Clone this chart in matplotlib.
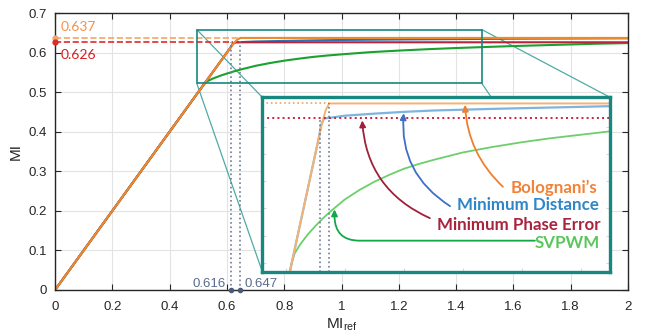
import numpy as np
import matplotlib
matplotlib.use("Agg")
import matplotlib.pyplot as plt
from matplotlib.patches import Rectangle, ConnectionPatch

plt.rcParams['font.family'] = ['Liberation Sans', 'DejaVu Sans']
plt.rcParams['mathtext.fontset'] = 'custom'
plt.rcParams['mathtext.rm'] = 'Liberation Sans'

# MI_ref vs achieved MI for each overmodulation strategy
x_bol = [0, 0.50, 0.55, 0.60, 0.62, 0.635, 0.647, 1.0, 1.5, 2.0]
y_bol = [0, 0.50, 0.55, 0.60, 0.62, 0.632, 0.637, 0.637, 0.637, 0.637]

x_mpe = [0, 0.50, 0.55, 0.60, 0.612, 0.62, 0.63, 1.0, 1.5, 2.0]
y_mpe = [0, 0.50, 0.55, 0.60, 0.612, 0.6215, 0.626, 0.626, 0.626, 0.626]

x_md = [0, 0.50, 0.55, 0.60, 0.612, 0.62, 0.63, 0.65, 0.70, 0.80, 0.90, 1.0, 1.2, 1.4, 1.6, 1.8, 2.0]
y_md = [0, 0.50, 0.55, 0.60, 0.612, 0.6215, 0.626, 0.6265, 0.628, 0.6295, 0.6308, 0.6318, 0.633, 0.634, 0.635, 0.6355, 0.636]

x_sv = [0, 0.52, 0.53, 0.55, 0.575, 0.60, 0.625, 0.65, 0.70, 0.75, 0.80, 0.85, 0.90, 0.95,
        1.0, 1.1, 1.2, 1.3, 1.4, 1.5, 1.6, 1.7, 1.8, 1.9, 2.0]
y_sv = [0, 0.52, 0.527, 0.534, 0.541, 0.547, 0.5525, 0.5575, 0.5665, 0.5735, 0.5795, 0.5845, 0.589, 0.5925,
        0.5955, 0.601, 0.605, 0.6085, 0.6115, 0.614, 0.6165, 0.6185, 0.6205, 0.6225, 0.624]

mi_bol_max = 0.637
mi_mpe_max = 0.626
x_sat_mpe = 0.616
x_sat_bol = 0.647

xticks = [0, 0.2, 0.4, 0.6, 0.8, 1, 1.2, 1.4, 1.6, 1.8, 2]
xticklabels = ['0', '0.2', '0.4', '0.6', '0.8', '1', '1.2', '1.4', '1.6', '1.8', '2']
yticks = [0, 0.1, 0.2, 0.3, 0.4, 0.5, 0.6, 0.7]
yticklabels = ['0', '0.1', '0.2', '0.3', '0.4', '0.5', '0.6', '0.7']

c_or = '#EE8A2A'
c_rd = '#B8243A'
c_bl = '#2A72C0'
c_gr = '#1AA12E'
c_teal = '#17877F'
c_gray = '#6E7C96'

fig = plt.figure(figsize=(6.51, 3.36), dpi=100)
ax = fig.add_axes([55/651, 46/336, 573/651, 277/336])

ax.plot(x_sv, y_sv, color=c_gr, lw=1.5)
ax.plot(x_md, y_md, color=c_bl, lw=1.5)
ax.plot(x_mpe, y_mpe, color=c_rd, lw=1.5)
ax.plot(x_bol, y_bol, color=c_or, lw=1.5)

# saturation markers
ax.plot([0, x_sat_bol], [mi_bol_max, mi_bol_max], '--', color='#F3A56A', lw=1.2)
ax.plot([0, 0.62], [mi_mpe_max, mi_mpe_max], '--', color='#DD2A2A', lw=1.2)
ax.plot([0], [mi_bol_max], 'o', color='#F3A56A', ms=3.5, clip_on=False, zorder=5)
ax.plot([0], [mi_mpe_max], 'o', color='#DD2A2A', ms=3.5, clip_on=False, zorder=5)
ax.text(0.02, 0.664, '0.637', color='#F59048', fontsize=10, family='Lato', va='center')
ax.text(0.02, 0.594, '0.626', color='#D41E1E', fontsize=10, family='Lato', va='center')

ax.plot([x_sat_mpe, x_sat_mpe], [0, mi_mpe_max], ':', color=c_gray, lw=1.2)
ax.plot([x_sat_bol, x_sat_bol], [0, mi_bol_max], ':', color=c_gray, lw=1.2)
ax.plot([x_sat_mpe, x_sat_bol], [0, 0], 'o', color='#4A5A78', ms=3, clip_on=False, zorder=5)
ax.text(x_sat_mpe - 0.02, 0.016, '0.616', color='#5A6B8C', fontsize=9.5, ha='right', va='center')
ax.text(x_sat_bol + 0.015, 0.016, '0.647', color='#5A6B8C', fontsize=9.5, ha='left', va='center')

ax.set_xlim(0, 2)
ax.set_ylim(0, 0.7)
ax.set_xticks(xticks)
ax.set_xticklabels(xticklabels)
ax.set_yticks(yticks)
ax.set_yticklabels(yticklabels)
ax.tick_params(direction='in', top=True, right=True, labelsize=9.5, colors='#262626', length=4, pad=6)
ax.tick_params(axis='x', pad=8)
ax.grid(True, color='#e3e3e3', lw=0.8)
ax.set_axisbelow(True)
for s in ax.spines.values():
    s.set_color('#262626')
    s.set_linewidth(1.0)
ax.set_xlabel(r'$\mathrm{MI}_{\mathrm{ref}}$', fontsize=11, color='#262626', labelpad=2)
ax.set_ylabel('MI', fontsize=11, color='#262626', labelpad=4)

# zoom box
bx0, bx1, by0, by1 = 0.495, 1.49, 0.522, 0.658
ax.add_patch(Rectangle((bx0, by0), bx1 - bx0, by1 - by0, fill=False, ec=c_teal, lw=1.2, zorder=4))

# inset
axins = fig.add_axes([262.3/651, 64.3/336, 347.7/651, 174.4/336])
axins.set_zorder(10)
axins.set_xlim(0.42, 1.6)
axins.set_ylim(0.5135, 0.6415)
axins.set_xticks(np.arange(0.5, 1.6, 0.2))
axins.set_yticks(np.arange(0.52, 0.64, 0.02))
axins.tick_params(direction='in', left=True, right=True, bottom=True, top=False,
                  labelleft=False, labelbottom=False, color='#d8d8d8', length=3)
for s in axins.spines.values():
    s.set_color(c_teal)
    s.set_linewidth(2.4)

axins.plot(x_sv, y_sv, color='#6CCF6C', lw=1.3)
axins.plot(x_md, y_md, color='#7DB4E0', lw=1.6)
axins.plot(x_bol, y_bol, color='#F5B272', lw=1.4)
axins.plot([0.42, 1.6], [mi_mpe_max, mi_mpe_max], ':', color='#D02035', lw=1.4)
axins.plot([0.42, x_sat_bol], [mi_bol_max, mi_bol_max], ':', color='#F0A060', lw=1.2)
axins.plot([x_sat_mpe, x_sat_mpe], [0.5135, mi_mpe_max], ':', color=c_gray, lw=1.2)
axins.plot([x_sat_bol, x_sat_bol], [0.5135, mi_bol_max], ':', color=c_gray, lw=1.2)

# connectors from zoom box to inset
for (px, py), (qx, qy) in [((bx0, by1), (0, 1)), ((bx1, by1), (1, 1)),
                           ((bx0, by0), (0, 0)), ((bx1, by0), (1, 0))]:
    con = ConnectionPatch(xyA=(px, py), coordsA=ax.transData, xyB=(qx, qy), coordsB=axins.transAxes,
                          color='#4FAAA5', lw=0.9)
    ax.add_artist(con)

# labels with arrows
fnt = dict(family='Lato', fontweight='bold', fontsize=12.2, ha='right', va='center')
axins.text(0.965, 0.48, 'Bolognani\u2019s', color='#F28238', transform=axins.transAxes, **fnt)
axins.text(0.968, 0.38, 'Minimum Distance', color='#2E86C8', transform=axins.transAxes, **fnt)
axins.text(0.972, 0.265, 'Minimum Phase Error', color='#A8243E', transform=axins.transAxes, **fnt)
axins.text(0.972, 0.163, 'SVPWM', color='#5CC65C', transform=axins.transAxes, **fnt)

arr = dict(arrowstyle='-|>', mutation_scale=9, lw=1.3, shrinkA=0, shrinkB=0)
axins.annotate('', xy=(1.108, np.interp(1.108, x_bol, y_bol) - 0.001), xycoords='data',
               xytext=(0.692, 0.487), textcoords='axes fraction',
               arrowprops=dict(color='#F07F2D', connectionstyle='arc3,rad=-0.2', **arr))
axins.annotate('', xy=(0.90, np.interp(0.90, x_md, y_md) - 0.001), xycoords='data',
               xytext=(0.54, 0.376), textcoords='axes fraction',
               arrowprops=dict(color='#3D6FC8', connectionstyle='arc3,rad=-0.3', **arr))
axins.annotate('', xy=(0.759, np.interp(0.759, x_mpe, y_mpe) - 0.0015), xycoords='data',
               xytext=(0.482, 0.307), textcoords='axes fraction',
               arrowprops=dict(color='#A0203A', connectionstyle='arc3,rad=-0.3', **arr))
axins.annotate('', xy=(0.665, np.interp(0.665, x_sv, y_sv) - 0.001), xycoords='data',
               xytext=(0.784, 0.178), textcoords='axes fraction',
               arrowprops=dict(color='#13A74A', connectionstyle='angle,angleA=0,angleB=90,rad=25', **arr))

fig.savefig('out.png', dpi=100)
